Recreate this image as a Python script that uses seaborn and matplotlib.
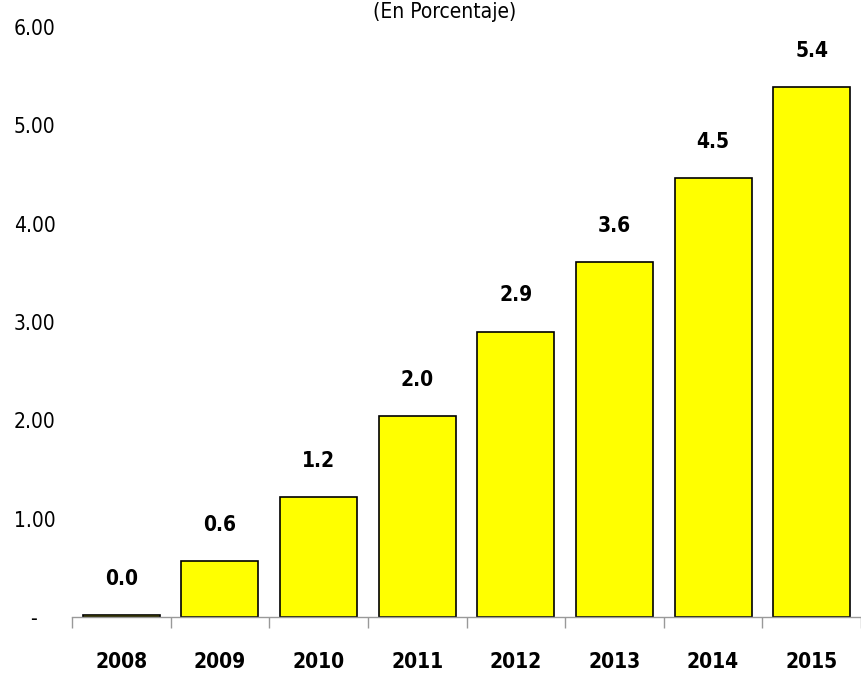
import matplotlib
matplotlib.use('Agg')
import matplotlib.pyplot as plt
import matplotlib.font_manager as fm
import seaborn as sns
import pandas as pd

# Datos del grafico
anios = ['2008', '2009', '2010', '2011', '2012', '2013', '2014', '2015']
valores = [0.02, 0.57, 1.22, 2.04, 2.90, 3.61, 4.46, 5.39]
etiquetas = ['0.0', '0.6', '1.2', '2.0', '2.9', '3.6', '4.5', '5.4']
y_ticks = [0, 1, 2, 3, 4, 5, 6]
y_labels = ['-   ', '1.00', '2.00', '3.00', '4.00', '5.00', '6.00']

sns.set_theme(style='white')

# buscar una fuente estrecha (tipo Arial Narrow) si existe
nombres = {f.name for f in fm.fontManager.ttflist}
estrecho = 'normal'
if 'Liberation Sans Narrow' in nombres:
    fuente = 'Liberation Sans Narrow'
else:
    ruta = fm.findfont(fm.FontProperties(family='DejaVu Sans', stretch='condensed'))
    if 'Condensed' in ruta:
        fuente = 'DejaVu Sans'
        estrecho = 'condensed'
    else:
        fuente = 'Liberation Sans'
plt.rcParams['font.family'] = [fuente, 'DejaVu Sans']
plt.rcParams['font.stretch'] = estrecho

df = pd.DataFrame({'anio': anios, 'valor': valores})

fig = plt.figure(figsize=(8.61, 6.82), dpi=100)
ax = fig.add_axes([72 / 861, 65 / 682, 1 - 72 / 861, 1 - 65 / 682 - 27 / 682])

sns.barplot(data=df, x='anio', y='valor', color='#FFFF00', saturation=1,
            edgecolor='black', linewidth=1.2, width=0.78, ax=ax)

for i, (v, t) in enumerate(zip(valores, etiquetas)):
    ax.text(i, v + 0.37, t, ha='center', va='center', fontsize=15,
            fontweight='bold', color='black')

ax.set_ylim(0, 6)
ax.set_xlim(-0.5, len(anios) - 0.5)
ax.set_yticks(y_ticks)
ax.set_yticklabels(y_labels, fontsize=15, color='black')
ax.tick_params(axis='y', length=0, pad=12)
ax.set_xticks(range(len(anios)))
ax.set_xticklabels(anios, fontsize=15, fontweight='bold', color='black')
ax.tick_params(axis='x', length=0, pad=25)

# marcas entre categorias
ax.set_xticks([i - 0.5 for i in range(len(anios) + 1)], minor=True)
ax.tick_params(axis='x', which='minor', length=8, width=1, color='#999999',
               direction='out', bottom=True)

for s in ['top', 'right', 'left']:
    ax.spines[s].set_visible(False)
ax.spines['bottom'].set_color('#999999')
ax.spines['bottom'].set_linewidth(1)
ax.set_xlabel('')
ax.set_ylabel('')

fig.text(445 / 861, 1 - 2 / 682, '(En Porcentaje)', ha='center', va='top',
         fontsize=15, color='black')

fig.savefig('out.png', dpi=100)
